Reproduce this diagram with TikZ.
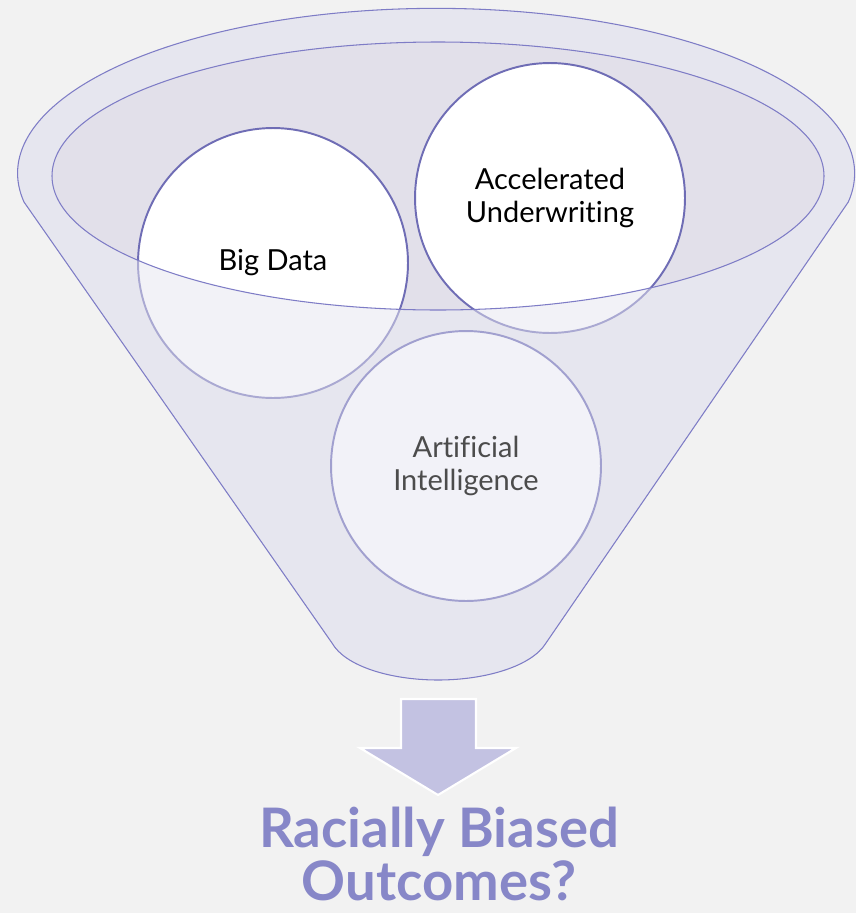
\documentclass[tikz,border=0pt]{standalone}
\usepackage{fontspec}
\setmainfont{Lato}[Ligatures=CommonOff]
\definecolor{pagebg}{HTML}{F2F2F2}
\definecolor{funnelfill}{HTML}{E8E8EE}
\definecolor{rimfill}{HTML}{E2E0EA}
\definecolor{funnelline}{HTML}{7E7CC6}
\definecolor{bubbleline}{HTML}{6F6DB5}
\definecolor{glass}{HTML}{E6E6F0}
\definecolor{arrowfill}{HTML}{C3C2E2}
\definecolor{titlecol}{HTML}{8787C8}
\begin{document}
\begin{tikzpicture}[x=0.02cm,y=-0.02cm,
    bubble/.style={circle,minimum size=5.4cm,inner sep=0pt,align=center,
      line width=1.1pt,font=\fontsize{16.5}{18.5}\selectfont},
    thin line/.style={draw=funnelline,line width=0.6pt}]
  % page
  \useasboundingbox (0,0) rectangle (856,913);
  \fill[pagebg] (0,0) rectangle (856,913);
  % funnel body and rim
  \def\funnelpath{(24,202) arc (170:370:418.5 and 165) -- (546,643)
    .. controls (532,666) and (486,680) .. (438,680)
    .. controls (390,680) and (345,666) .. (332,643) -- cycle}
  \fill[funnelfill] \funnelpath;
  \fill[rimfill] (438,176) ellipse (386 and 134);
  % bubbles falling in
  \node[bubble,draw=bubbleline,fill=white] (bigdata) at (273,263) {Big Data};
  \node[bubble,draw=bubbleline,fill=white] (underwriting) at (550,198) {Accelerated\\Underwriting};
  % front of the funnel, seen through
  \fill[glass,opacity=0.5,even odd rule] \funnelpath (438,176) ellipse (386 and 134);
  \node[bubble,draw=bubbleline!65!white,fill=glass!50!white,text=black!70] (ai) at (466,466) {Artificial\\Intelligence};
  % outlines
  \draw[thin line] \funnelpath;
  \draw[thin line] (438,176) ellipse (386 and 134);
  % output arrow
  \draw[fill=arrowfill,draw=white,line width=1.2pt,line join=miter]
    (401,699) -- (476,699) -- (476,748) -- (516,748) -- (438,795)
    -- (360,748) -- (401,748) -- cycle;
  \node[text=titlecol,font=\fontsize{31}{30}\selectfont\bfseries,align=center,
    inner sep=0pt,anchor=north] (outcome) at (439,807) {Racially Biased\\Outcomes?};
\end{tikzpicture}
\end{document}
